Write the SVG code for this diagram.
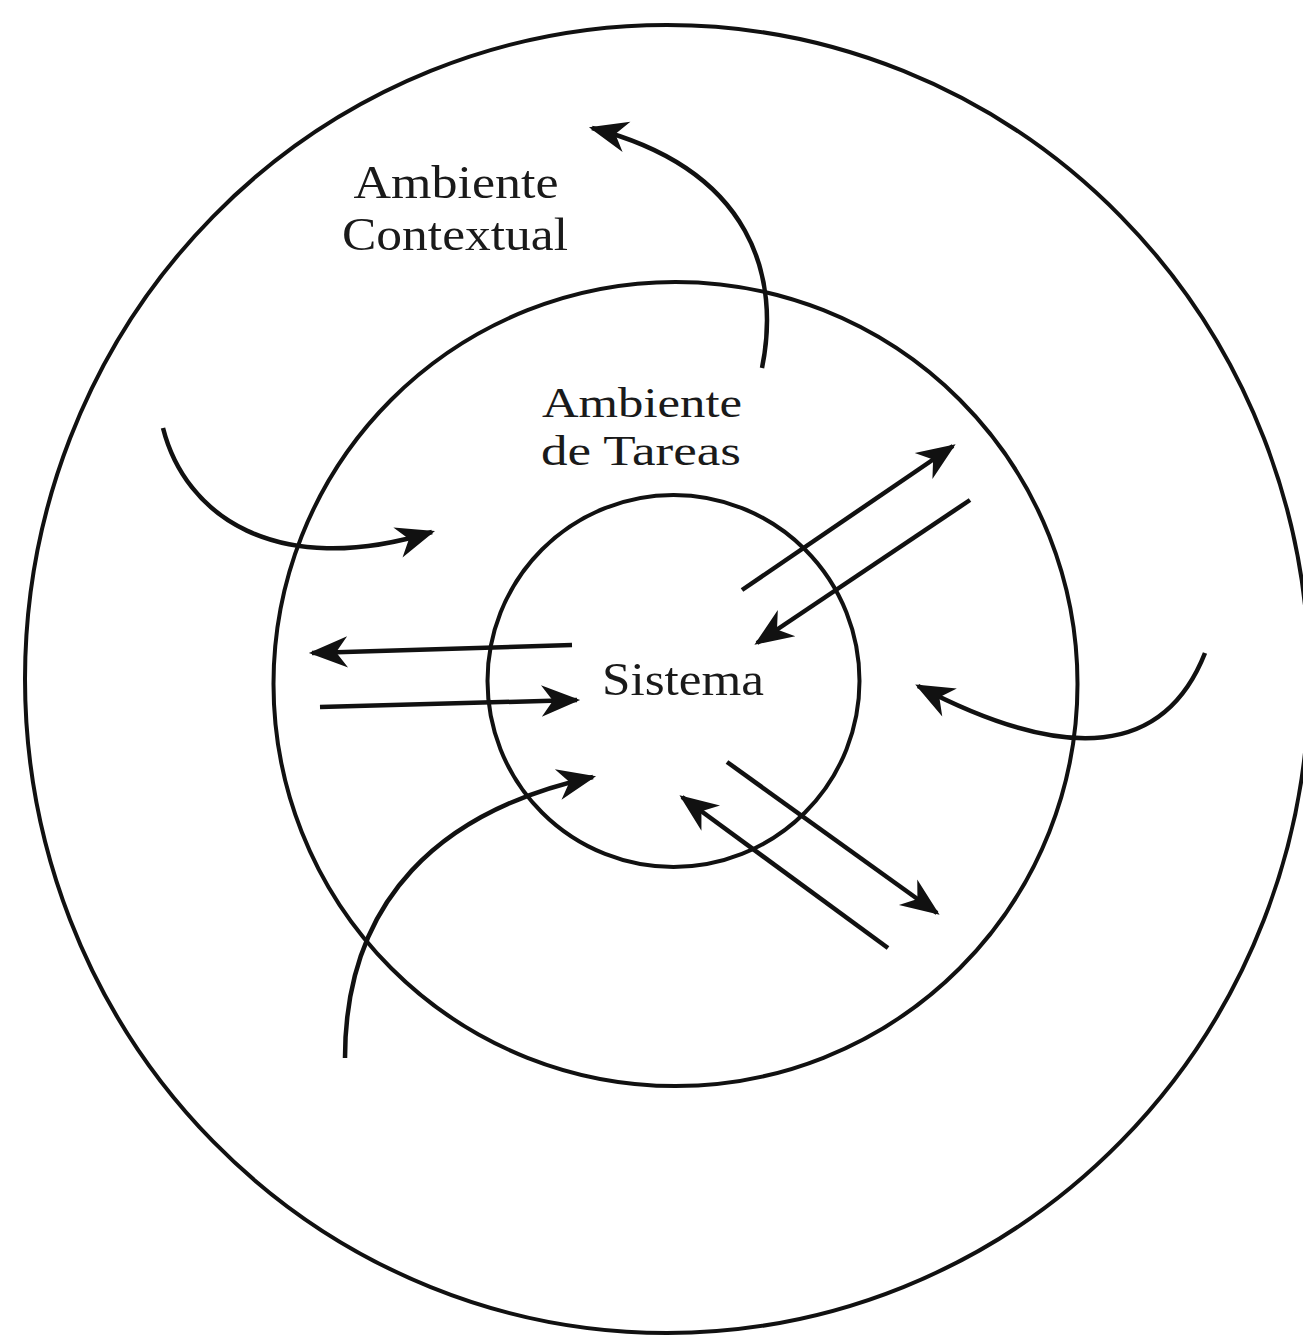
<svg xmlns="http://www.w3.org/2000/svg" width="1303" height="1336" viewBox="0 0 1303 1336">
<style>
.ring{fill:none;stroke:#111;stroke-width:4}
.c{fill:none;stroke:#111;stroke-width:4.5;marker-end:url(#ah)}
.t{font-family:"Liberation Serif","Times New Roman",serif;fill:#1a1a1a;text-anchor:middle}
.big{font-size:47px}
.mid{font-size:43px}
.sis{font-size:46px}
</style>
<defs>
<marker id="ah" markerUnits="userSpaceOnUse" markerWidth="44" markerHeight="40" viewBox="-38 -17 42 34" refX="0" refY="0" orient="auto">
<path d="M3,0 L-34,-15 L-23,0 L-34,15 Z" fill="#111"/>
</marker>
</defs>
<rect width="1303" height="1336" fill="#fff"/>
<g id="ambiente-contextual">
<ellipse class="ring" cx="667" cy="679" rx="642" ry="654"/>
<text class="t big" x="456" y="198" textLength="205" lengthAdjust="spacingAndGlyphs">Ambiente</text>
<text class="t big" x="455" y="250" textLength="226" lengthAdjust="spacingAndGlyphs">Contextual</text>
</g>
<g id="ambiente-tareas">
<circle class="ring" cx="675.5" cy="684" r="402"/>
<text class="t mid" x="642" y="417" textLength="200" lengthAdjust="spacingAndGlyphs">Ambiente</text>
<text class="t mid" x="641" y="465" textLength="200" lengthAdjust="spacingAndGlyphs">de Tareas</text>
</g>
<g id="sistema">
<circle class="ring" cx="673.5" cy="681" r="186"/>
<text class="t sis" x="683" y="695" textLength="162" lengthAdjust="spacingAndGlyphs">Sistema</text>
</g>
<g id="connectors">
<path class="c" d="M762,368 C780,280 755,170 592,128"/>
<path class="c" d="M163,428 C185,515 275,580 432,532"/>
<path class="c" d="M572,645 L312,653"/>
<path class="c" d="M320,707 L577,700"/>
<path class="c" d="M742,590 L953,446"/>
<path class="c" d="M970,500 L757,643"/>
<path class="c" d="M1205,653 Q1145,805 918,686"/>
<path class="c" d="M345,1058 C345,900 440,810 593,777"/>
<path class="c" d="M727,762 L937,913"/>
<path class="c" d="M888,948 L682,797"/>
</g>
</svg>
